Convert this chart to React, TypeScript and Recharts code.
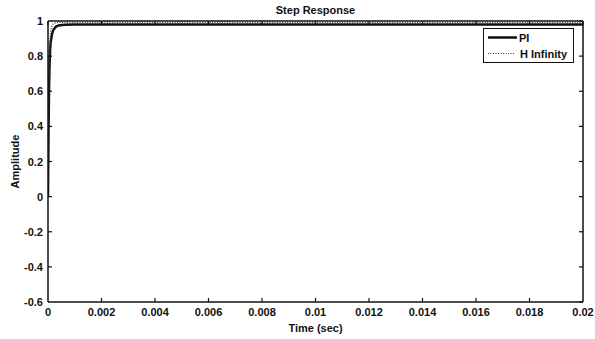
import React from "react";
import { LineChart, Line, XAxis, YAxis } from "recharts";

const piTime = [0, 0.00001, 0.00002, 0.00004, 0.00006, 0.00008, 0.0001, 0.00015, 0.0002, 0.0003, 0.0004, 0.0006, 0.001, 0.005, 0.01, 0.015, 0.02];
const piValues = [0, 0.2, 0.38, 0.62, 0.76, 0.84, 0.88, 0.925, 0.95, 0.968, 0.975, 0.978, 0.98, 0.98, 0.98, 0.98, 0.98];

const hInfTime = [0, 0.00001, 0.00002, 0.00004, 0.00006, 0.00008, 0.0001, 0.00015, 0.0002, 0.0003, 0.0005, 0.001, 0.005, 0.01, 0.015, 0.02];
const hInfValues = [0, 0.25, 0.45, 0.7, 0.83, 0.9, 0.94, 0.975, 0.985, 0.99, 0.992, 0.992, 0.992, 0.992, 0.992, 0.992];

const xTicks = [0, 0.002, 0.004, 0.006, 0.008, 0.01, 0.012, 0.014, 0.016, 0.018, 0.02];
const yTicks = [-0.6, -0.4, -0.2, 0, 0.2, 0.4, 0.6, 0.8, 1];

const seriesNames = ["PI", "H Infinity"];

const piData = piTime.map((t, i) => ({ t, v: piValues[i] }));
const hInfData = hInfTime.map((t, i) => ({ t, v: hInfValues[i] }));

const FONT = "'Liberation Sans', Arial, sans-serif";
const TICK_LEN = 4;
const X_MARGIN = 6;
const Y_MARGIN = 5;

const BottomTick = (props: any) => {
  const { x, y, payload, index } = props;
  const axisY = y - X_MARGIN;
  const showLine = index !== 0 && index !== xTicks.length - 1;
  return (
    <g>
      {showLine && <line x1={x} x2={x} y1={axisY} y2={axisY - TICK_LEN} stroke="#111" strokeWidth={1.2} />}
      <text x={x} y={y + 8} textAnchor="middle" style={{ fontSize: 11, fontWeight: 700, fontFamily: FONT }} fill="#111">
        {String(payload.value)}
      </text>
    </g>
  );
};

const LeftTick = (props: any) => {
  const { x, y, payload, index } = props;
  const axisX = x + Y_MARGIN;
  const showLine = index !== 0 && index !== yTicks.length - 1;
  return (
    <g>
      {showLine && <line x1={axisX} x2={axisX + TICK_LEN} y1={y} y2={y} stroke="#111" strokeWidth={1.2} />}
      <text x={x} y={y + 4} textAnchor="end" style={{ fontSize: 11, fontWeight: 700, fontFamily: FONT }} fill="#111">
        {String(payload.value)}
      </text>
    </g>
  );
};

const noLabel = () => <g />;
const tickLineStyle = { stroke: "#111", strokeWidth: 1.2 };

const LegendBox = () => (
  <div style={{ position: "absolute", left: 483, top: 28, width: 91, height: 35, border: "1px solid #111", background: "#fff", boxSizing: "border-box" }}>
    <svg width={89} height={33} style={{ display: "block" }}>
      <line x1={4} x2={33} y1={8.5} y2={8.5} stroke="#111" strokeWidth={2.5} />
      <text x={35} y={12.5} style={{ fontSize: 11, fontWeight: 700, fontFamily: FONT }} fill="#111">{seriesNames[0]}</text>
      <line x1={4} x2={31} y1={24.5} y2={24.5} stroke="#333" strokeWidth={1.2} strokeDasharray="1 1.5" />
      <text x={36} y={28.5} style={{ fontSize: 11, fontWeight: 700, fontFamily: FONT }} fill="#111">{seriesNames[1]}</text>
    </svg>
  </div>
);

export default function App() {
  return (
    <div style={{ position: "absolute", left: 0, top: 0, width: 595, height: 339, background: "#fff" }}>
      <div style={{ position: "absolute", left: 48, top: 4, width: 535, textAlign: "center", fontSize: 11, lineHeight: "13px", fontWeight: 700, fontFamily: FONT, color: "#111" }}>
        Step Response
      </div>
      <LineChart width={595} height={339} margin={{ top: 21, right: 12, bottom: 7, left: 8 }}>
        <XAxis xAxisId="x" dataKey="t" type="number" domain={[0, 0.02]} ticks={xTicks} allowDataOverflow
          tick={<BottomTick />} tickSize={0} tickMargin={X_MARGIN} interval={0}
          axisLine={{ stroke: "#111", strokeWidth: 1.5 }} tickLine={false} height={30}
          label={{ value: "Time (sec)", position: "insideBottom", offset: 0, style: { fontSize: 11, fontWeight: 700, fill: "#111", fontFamily: FONT } }} />
        <XAxis xAxisId="xt" dataKey="t" type="number" domain={[0, 0.02]} ticks={xTicks} orientation="top" mirror allowDataOverflow
          tick={noLabel} tickSize={TICK_LEN} interval={0} axisLine={{ stroke: "#111", strokeWidth: 1.5 }} tickLine={tickLineStyle} />
        <YAxis yAxisId="y" type="number" domain={[-0.6, 1]} ticks={yTicks} allowDataOverflow
          tick={<LeftTick />} tickSize={0} tickMargin={Y_MARGIN} width={40} interval={0}
          axisLine={{ stroke: "#111", strokeWidth: 1.5 }} tickLine={false}
          label={{ value: "Amplitude", angle: -90, position: "insideLeft", offset: 7, style: { textAnchor: "middle", fontSize: 11, fontWeight: 700, fill: "#111", fontFamily: FONT } }} />
        <YAxis yAxisId="yr" type="number" domain={[-0.6, 1]} ticks={yTicks} orientation="right" mirror allowDataOverflow
          tick={noLabel} tickSize={TICK_LEN} interval={0} axisLine={{ stroke: "#111", strokeWidth: 1.5 }} tickLine={tickLineStyle} />
        <Line xAxisId="x" yAxisId="y" data={piData} dataKey="v" name={seriesNames[0]} type="linear"
          stroke="#111" strokeWidth={2.5} dot={false} isAnimationActive={false} />
        <Line xAxisId="xt" yAxisId="yr" data={hInfData} dataKey="v" name={seriesNames[1]} type="linear"
          stroke="#444" strokeWidth={1.3} strokeDasharray="1 1.5" dot={false} isAnimationActive={false} />
      </LineChart>
      <LegendBox />
    </div>
  );
}
